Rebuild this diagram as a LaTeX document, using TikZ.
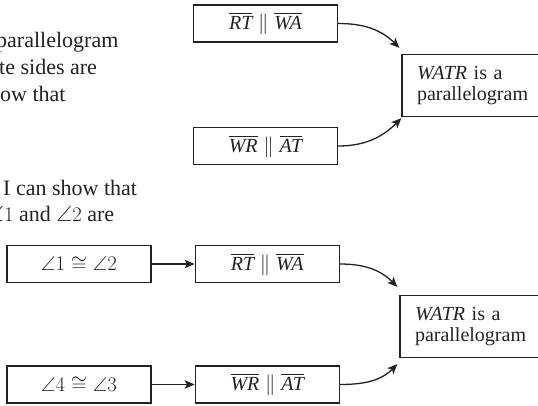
\documentclass[tikz,border=0pt]{standalone}
\usepackage{amsmath,amssymb}
\usepackage{fontspec}
\setmainfont{Liberation Serif}
\usetikzlibrary{positioning, arrows.meta}
\definecolor{ink}{HTML}{222222}

\begin{document}
\begin{tikzpicture}[x=1pt, y=-1pt, font=\fontsize{20}{21}\selectfont, color=ink,
    >={Stealth[length=10pt,width=8.5pt,inset=2.5pt]},
    stmt/.style={draw=ink, line width=1.2pt, minimum width=144pt, minimum height=37pt, inner sep=0pt},
    goal/.style={draw=ink, line width=1.2pt, align=left, text width=130pt, inner xsep=15pt, minimum height=62pt},
    prose/.style={anchor=base west, inner sep=0pt, font=\fontsize{22}{27}\selectfont},
    link/.style={->, line width=1.3pt, draw=ink}]
    \useasboundingbox (0,0) rectangle (538,406);
    \clip (0,0) rectangle (538,406);

    \node[prose] (par1) at (-4,48) {parallelogram};
    \node[prose] (par2) at (-1,75) {te sides are};
    \node[prose] (par3) at (0,102) {ow that};
    \node[prose] (ifa) at (3,196) {I can show that};
    \node[prose] (ifb) at (-12,222) {$\angle 1$ and $\angle 2$ are};

    \node[stmt] (rtwa) at (265.5,23.5) {$\overline{\textit{RT}} \parallel \overline{\textit{WA}}$};
    \node[stmt] (wrat) at (265.5,146) {$\overline{\textit{WR}} \parallel \overline{\textit{AT}}$};
    \node[goal] (watr) at (482,85.5) {\textit{WATR} is a\\parallelogram};

    \node[stmt] (ang12) at (79,264) {$\angle 1 \cong \angle 2$};
    \node[stmt, right=43pt of ang12] (rtwb) {$\overline{\textit{RT}} \parallel \overline{\textit{WA}}$};
    \node[stmt] (ang43) at (79,384.5) {$\angle 4 \cong \angle 3$};
    \node[stmt, right=43pt of ang43] (wrbt) {$\overline{\textit{WR}} \parallel \overline{\textit{AT}}$};
    \node[goal] (watrb) at (480,326.5) {\textit{WATR} is a\\parallelogram};

    \draw[link] (rtwa.east) to[out=0, in=135] ([xshift=-2pt, yshift=6pt]watr.north west);
    \draw[link] (wrat.east) to[out=0, in=-135] ([yshift=-1pt]watr.south west);
    \draw[link] (ang12) -- (rtwb);
    \draw[link] (ang43) -- (wrbt);
    \draw[link] (rtwb.east) to[out=0, in=135] ([xshift=-2pt, yshift=8pt]watrb.north west);
    \draw[link] (wrbt.east) to[out=0, in=-135] ([xshift=-2pt, yshift=-6pt]watrb.south west);
\end{tikzpicture}
\end{document}
